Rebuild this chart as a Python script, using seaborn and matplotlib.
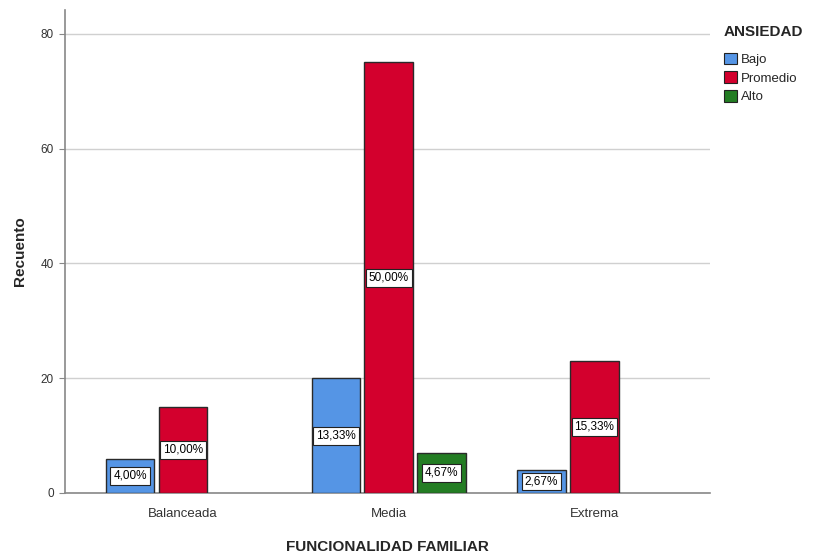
import numpy as np
import pandas as pd
import matplotlib
matplotlib.use("Agg")
import matplotlib.pyplot as plt
import seaborn as sns

# data
categorias = ["Balanceada", "Media", "Extrema"]
niveles = ["Bajo", "Promedio", "Alto"]
bajo = [6, 20, 4]
promedio = [15, 75, 23]
alto = [0, 7, 0]
colores = ["#5595E5", "#D3002D", "#237D23"]

rows = []
for i, cat in enumerate(categorias):
    for nivel, vals in zip(niveles, [bajo, promedio, alto]):
        rows.append({"FUNCIONALIDAD FAMILIAR": cat, "ANSIEDAD": nivel, "Recuento": vals[i]})
df = pd.DataFrame(rows)
total = df["Recuento"].sum()
df_plot = df[df["Recuento"] > 0]

sns.set_style("white")
plt.rcParams["font.family"] = ["Liberation Sans", "DejaVu Sans"]

fig = plt.figure(figsize=(8.17, 5.53), dpi=100)
ax = fig.add_axes([0.0796, 0.1085, 0.789, 0.874])

sns.barplot(data=df_plot, x="FUNCIONALIDAD FAMILIAR", y="Recuento", hue="ANSIEDAD",
            order=categorias, hue_order=niveles, palette=colores, saturation=1,
            width=0.77, gap=0.08, edgecolor="#2a2a2a", linewidth=1.0,
            errorbar=None, ax=ax, zorder=3)

# percentage labels in white boxes
for p in ax.patches:
    h = p.get_height()
    if h is None or h <= 0 or p.get_width() <= 0:
        continue
    pct = f"{h / total * 100:.2f}%".replace(".", ",")
    ax.text(p.get_x() + p.get_width() / 2, h / 2, pct, ha="center", va="center",
            fontsize=8.5, color="black", zorder=5,
            bbox=dict(boxstyle="square,pad=0.25", fc="white", ec="#222222", lw=0.8))

ax.set_xlim(-0.573, 2.56)
ax.set_ylim(0, 84.2)
ax.set_yticks([0, 20, 40, 60, 80])
ax.yaxis.grid(True, color="#d0d0d0", lw=1.0, zorder=0)
ax.set_axisbelow(True)
for s in ["top", "right"]:
    ax.spines[s].set_visible(False)
for s in ["left", "bottom"]:
    ax.spines[s].set_color("#888888")
    ax.spines[s].set_linewidth(1.2)
ax.tick_params(axis="y", left=True, length=4, color="#888888", labelsize=8.5,
               labelcolor="#333333", pad=4)
ax.tick_params(axis="x", bottom=False, labelsize=9.5, labelcolor="#333333", pad=7)

ax.set_ylabel("Recuento", fontsize=11, fontweight="bold", labelpad=10)
ax.set_xlabel("FUNCIONALIDAD FAMILIAR", fontsize=11, fontweight="bold", labelpad=15)

ax.get_legend().remove()
handles = [plt.Rectangle((0, 0), 1, 1, fc=c, ec="#222222", lw=0.8) for c in colores]
leg = fig.legend(handles, niveles, title="ANSIEDAD", loc="upper left",
                 bbox_to_anchor=(0.875, 0.972), frameon=False, fontsize=9.5,
                 title_fontproperties={"weight": "bold", "size": 11},
                 handlelength=1.0, handleheight=1.0, handletextpad=0.25,
                 labelspacing=0.4, borderpad=0.2)
leg._legend_box.align = "left"
leg._legend_box.sep = 10

fig.savefig("out.png", dpi=100)
